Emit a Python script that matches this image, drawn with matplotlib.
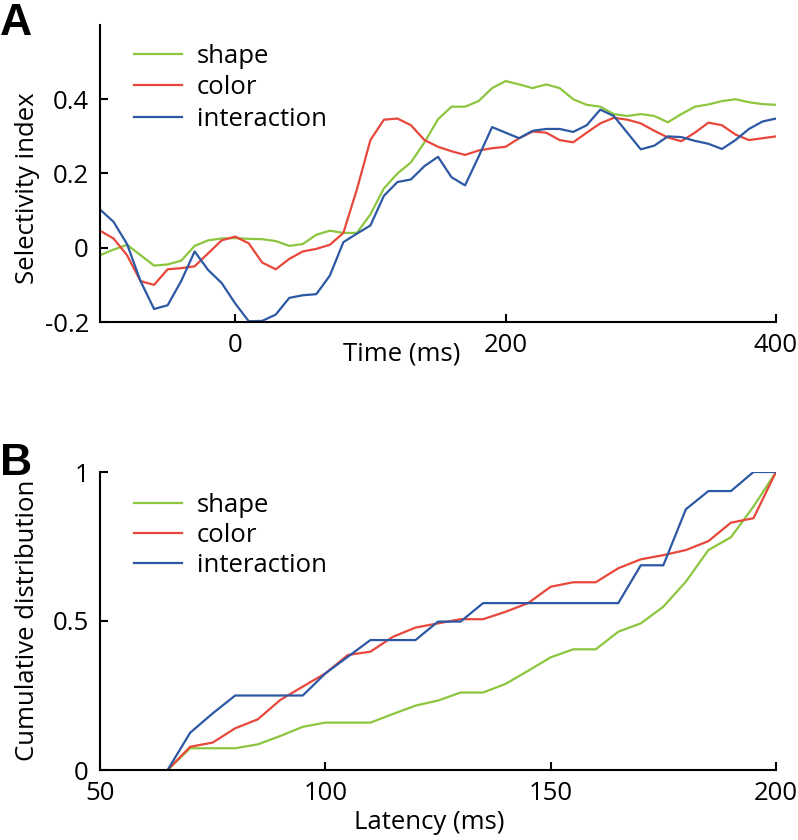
import matplotlib
matplotlib.use("Agg")
import matplotlib.pyplot as plt

plt.rcParams['font.family'] = ['Open Sans', 'DejaVu Sans']

# panel A: selectivity index over time (10 ms steps)
time_ms = list(range(-100, 401, 10))
shape_sel = [-0.02, -0.005, 0.008, -0.02, -0.048, -0.045, -0.035, 0.005, 0.02, 0.025,
             0.026, 0.024, 0.023, 0.018, 0.005, 0.01, 0.035, 0.046, 0.04, 0.04,
             0.09, 0.16, 0.2, 0.23, 0.284, 0.346, 0.38, 0.38, 0.395, 0.43,
             0.449, 0.44, 0.43, 0.44, 0.43, 0.40, 0.385, 0.38, 0.36, 0.355,
             0.36, 0.355, 0.338, 0.36, 0.38, 0.386, 0.395, 0.40, 0.392, 0.387,
             0.385]
color_sel = [0.046, 0.025, -0.02, -0.09, -0.1, -0.058, -0.055, -0.05, -0.015, 0.02,
             0.03, 0.012, -0.04, -0.058, -0.03, -0.01, -0.003, 0.008, 0.04, 0.157,
             0.29, 0.345, 0.348, 0.33, 0.29, 0.272, 0.26, 0.25, 0.262, 0.268,
             0.272, 0.295, 0.313, 0.31, 0.29, 0.284, 0.31, 0.335, 0.35, 0.345,
             0.335, 0.315, 0.297, 0.287, 0.31, 0.337, 0.33, 0.305, 0.29, 0.295,
             0.30]
inter_sel = [0.103, 0.07, 0.01, -0.09, -0.165, -0.155, -0.09, -0.01, -0.06, -0.095,
             -0.15, -0.198, -0.197, -0.18, -0.135, -0.128, -0.125, -0.075, 0.015, 0.038,
             0.06, 0.14, 0.177, 0.184, 0.22, 0.245, 0.19, 0.168, 0.245, 0.325,
             0.31, 0.295, 0.315, 0.32, 0.32, 0.312, 0.33, 0.372, 0.355, 0.31,
             0.265, 0.275, 0.30, 0.298, 0.288, 0.28, 0.266, 0.29, 0.32, 0.34,
             0.348]

# panel B: cumulative latency distribution (5 ms bins)
latency = list(range(65, 201, 5))
shape_cdf = [0, 0.073, 0.073, 0.073, 0.086, 0.114, 0.145, 0.159, 0.159, 0.159,
             0.188, 0.216, 0.233, 0.26, 0.26, 0.289, 0.333, 0.378, 0.405, 0.405,
             0.464, 0.492, 0.548, 0.632, 0.738, 0.781, 0.884, 1.0]
color_cdf = [0, 0.078, 0.092, 0.14, 0.17, 0.235, 0.28, 0.324, 0.386, 0.397,
             0.447, 0.478, 0.492, 0.506, 0.506, 0.531, 0.56, 0.615, 0.63, 0.63,
             0.677, 0.707, 0.721, 0.738, 0.768, 0.83, 0.845, 1.0]
inter_cdf = [0, 0.125, 0.19, 0.25, 0.25, 0.25, 0.25, 0.324, 0.38, 0.436,
             0.436, 0.436, 0.498, 0.498, 0.56, 0.56, 0.56, 0.56, 0.56, 0.56,
             0.56, 0.687, 0.687, 0.875, 0.936, 0.936, 1.0, 1.0]

labels = ['shape', 'color', 'interaction']
colors = ['#8cc63e', '#e8473b', '#2c58a4']
FS = 18.5


def style_axes(ax):
    for s in ['top', 'right']:
        ax.spines[s].set_visible(False)
    for s in ['left', 'bottom']:
        ax.spines[s].set_linewidth(1.5)
    ax.tick_params(direction='in', length=6, width=1.5, labelsize=FS, pad=8)


fig = plt.figure(figsize=(7.98, 8.4), dpi=100)

axA = fig.add_axes([100 / 798, 1 - 322 / 840, 676 / 798, 297 / 840])
for ys, lab, c in zip([shape_sel, color_sel, inter_sel], labels, colors):
    axA.plot(time_ms, ys, color=c, lw=1.6, label=lab)
axA.set_xlim(-100, 400)
axA.set_ylim(-0.2, 0.6)
axA.set_xticks([0, 200, 400])
axA.set_yticks([-0.2, 0, 0.2, 0.4])
axA.set_yticklabels(['-0.2', '0', '0.2', '0.4'])
style_axes(axA)
axA.set_xlabel('Time (ms)', fontsize=FS, labelpad=-12)
axA.xaxis.label.set_x(0.447)
axA.set_ylabel('Selectivity index', fontsize=FS)
axA.yaxis.set_label_coords(-0.089, 0.45)
axA.legend(loc='upper left', bbox_to_anchor=(0.05, 0.935), frameon=False,
           fontsize=FS, handlelength=1.87, handletextpad=0.58,
           labelspacing=0.24, borderpad=0, borderaxespad=0)

axB = fig.add_axes([100 / 798, 1 - 770 / 840, 676 / 798, 298 / 840])
for ys, lab, c in zip([shape_cdf, color_cdf, inter_cdf], labels, colors):
    axB.plot(latency, ys, color=c, lw=1.6, label=lab)
axB.set_xlim(50, 200)
axB.set_ylim(0, 1)
axB.set_xticks([50, 100, 150, 200])
axB.set_yticks([0, 0.5, 1])
axB.set_yticklabels(['0', '0.5', '1'])
style_axes(axB)
axB.set_xlabel('Latency (ms)', fontsize=FS, labelpad=3)
axB.xaxis.label.set_x(0.487)
axB.set_ylabel('Cumulative distribution', fontsize=FS)
axB.yaxis.set_label_coords(-0.089, 0.503)
axB.legend(loc='upper left', bbox_to_anchor=(0.05, 0.93), frameon=False,
           fontsize=FS, handlelength=1.87, handletextpad=0.58,
           labelspacing=0.2, borderpad=0, borderaxespad=0)

fig.text(0.0, 1 - 3 / 840, 'A', fontsize=32, fontweight='bold', va='top', ha='left',
         family='Liberation Sans')
fig.text(0.0, 1 - 443 / 840, 'B', fontsize=32, fontweight='bold', va='top', ha='left',
         family='Liberation Sans')

fig.savefig('out.png', dpi=100)
